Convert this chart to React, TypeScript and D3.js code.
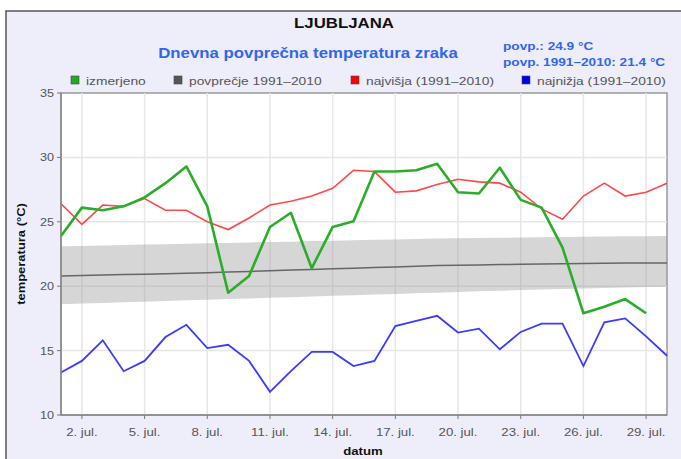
import React from "react";
import * as d3 from "d3";

const width = 681;
const height = 459;

// days of July
const days = [1, 2, 3, 4, 5, 6, 7, 8, 9, 10, 11, 12, 13, 14, 15, 16, 17, 18, 19, 20, 21, 22, 23, 24, 25, 26, 27, 28, 29, 30];
const tickDays = [2, 5, 8, 11, 14, 17, 20, 23, 26, 29];
const yTicks = [10, 15, 20, 25, 30, 35];

// izmerjeno (measured), days 1..29
const measured = [23.9, 26.1, 25.9, 26.2, 26.9, 28.0, 29.3, 26.2, 19.5, 20.8, 24.6, 25.7, 21.4, 24.6, 25.05, 28.9, 28.9, 29.0, 29.5, 27.3, 27.2, 29.2, 26.7, 26.1, 23.0, 17.9, 18.4, 19.0, 17.9];
// najvišja (1991–2010)
const maxT = [26.4, 24.8, 26.3, 26.2, 26.8, 25.9, 25.9, 25.0, 24.4, 25.3, 26.3, 26.6, 27.0, 27.6, 29.0, 28.9, 27.3, 27.4, 27.9, 28.3, 28.1, 28.0, 27.3, 26.0, 25.2, 27.0, 28.0, 27.0, 27.3, 28.0];
// najnižja (1991–2010)
const minT = [13.3, 14.2, 15.8, 13.4, 14.2, 16.05, 17.0, 15.2, 15.45, 14.2, 11.8, 13.4, 14.9, 14.9, 13.8, 14.2, 16.9, 17.3, 17.7, 16.4, 16.7, 15.1, 16.45, 17.1, 17.1, 13.8, 17.2, 17.5, 16.1, 14.6];
// povprečje 1991–2010 and its band
const avgT = [20.8, 20.83, 20.87, 20.9, 20.93, 20.97, 21.0, 21.05, 21.1, 21.15, 21.2, 21.25, 21.3, 21.35, 21.4, 21.45, 21.5, 21.55, 21.6, 21.62, 21.65, 21.68, 21.7, 21.72, 21.75, 21.77, 21.78, 21.8, 21.8, 21.8];
const bandHigh = [23.1, 23.13, 23.16, 23.2, 23.23, 23.26, 23.3, 23.33, 23.36, 23.4, 23.43, 23.46, 23.5, 23.53, 23.56, 23.6, 23.63, 23.66, 23.7, 23.72, 23.74, 23.76, 23.78, 23.8, 23.82, 23.84, 23.86, 23.87, 23.88, 23.9];
const bandLow = [18.6, 18.65, 18.7, 18.75, 18.8, 18.85, 18.9, 18.95, 19.0, 19.05, 19.1, 19.15, 19.2, 19.25, 19.3, 19.35, 19.4, 19.45, 19.5, 19.55, 19.6, 19.65, 19.7, 19.75, 19.78, 19.82, 19.86, 19.9, 19.93, 19.95];

const legend = [
  { label: "izmerjeno", color: "#22aa22", x: 71 },
  { label: "povprečje 1991–2010", color: "#555555", x: 174 },
  { label: "najvišja (1991–2010)", color: "#ff0000", x: 351 },
  { label: "najnižja (1991–2010)", color: "#0000ee", x: 522 },
];

const font = "'Liberation Sans', Arial, sans-serif";

// the original text is rendered a bit wider than Arial, so stretch it sideways
const T = ({ x, y, sx = 1.2, rot = 0, children, ...rest }: any) => (
  <text transform={`translate(${x},${y}) rotate(${rot}) scale(${sx},1)`} {...rest}>
    {children}
  </text>
);

const App = () => {
  const left = 61;
  const right = 667;
  const top = 93;
  const bottom = 415;

  const x = d3.scaleLinear().domain([1, 30]).range([left, right]);
  const y = d3.scaleLinear().domain([10, 35]).range([bottom, top]);

  const line = d3
    .line<number>()
    .x((d, i) => x(days[i]))
    .y((d) => y(d));

  const band = d3
    .area<number>()
    .x((d, i) => x(days[i]))
    .y0((d, i) => y(bandLow[i]))
    .y1((d) => y(d));

  return (
    <svg
      width={width}
      height={height}
      style={{ position: "absolute", left: 0, top: 0, fontFamily: font }}
    >
      <rect x={0} y={0} width={width} height={height} fill="#ffffff" />
      <rect x={6} y={11} width={720} height={500} fill="#eeeefb" stroke="#555" strokeWidth={1.5} />

      <T x={344} y={28} sx={1.2} textAnchor="middle" fontSize={14} fontWeight="bold" fill="#111">
        LJUBLJANA
      </T>
      <T x={308} y={58} sx={1.2} textAnchor="middle" fontSize={14} fontWeight="bold" fill="#3366ee">
        Dnevna povprečna temperatura zraka
      </T>
      <T x={503} y={50} sx={1.24} fontSize={11} fontWeight="bold" fill="#3366ee">
        povp.: 24.9 °C
      </T>
      <T x={503} y={66} sx={1.24} fontSize={11} fontWeight="bold" fill="#3366ee">
        povp. 1991–2010: 21.4 °C
      </T>

      {legend.map((l) => (
        <g key={l.label}>
          <rect x={l.x} y={76} width={8} height={8} fill={l.color} stroke="#444" strokeWidth={0.6} />
          <T x={l.x + 15} y={85} sx={1.2} fontSize={11.5} fill="#555">
            {l.label}
          </T>
        </g>
      ))}

      {/* plot area */}
      <rect x={left} y={top} width={right - left} height={bottom - top} fill="#ffffff" stroke="#999" strokeWidth={1.5} />

      {yTicks.slice(1, -1).map((t) => (
        <line key={t} x1={left} x2={right} y1={y(t)} y2={y(t)} stroke="#e6e6e6" strokeWidth={1.5} />
      ))}
      {tickDays.map((d) => (
        <line key={d} x1={x(d)} x2={x(d)} y1={top} y2={bottom} stroke="#e6e6e6" strokeWidth={1.5} />
      ))}

      <path d={band(bandHigh) || ""} fill="#999" fillOpacity={0.4} />
      <path d={line(avgT) || ""} fill="none" stroke="#666" strokeWidth={1.5} />
      <path d={line(maxT) || ""} fill="none" stroke="#ff4848" strokeWidth={1.6} />
      <path d={line(minT) || ""} fill="none" stroke="#3b3bff" strokeWidth={1.8} />
      <path d={line(measured) || ""} fill="none" stroke="#2aae2a" strokeWidth={2.6} strokeLinejoin="round" />

      {/* axes */}
      <line x1={left} x2={left} y1={top} y2={bottom} stroke="#888" strokeWidth={1.5} />
      <line x1={left} x2={right} y1={bottom} y2={bottom} stroke="#888" strokeWidth={1.5} />

      {yTicks.map((t) => (
        <g key={t}>
          <line x1={left - 4} x2={left} y1={y(t)} y2={y(t)} stroke="#777" />
          <T x={left - 7} y={y(t) + 4} sx={1.15} textAnchor="end" fontSize={11} fill="#555">
            {t}
          </T>
        </g>
      ))}
      {tickDays.map((d) => (
        <g key={d}>
          <line x1={x(d)} x2={x(d)} y1={bottom} y2={bottom + 4} stroke="#777" />
          <T x={x(d)} y={bottom + 21} sx={1.2} textAnchor="middle" fontSize={11} fill="#555">
            {d}. jul.
          </T>
        </g>
      ))}

      <T x={25} y={(top + bottom) / 2} rot={-90} sx={1.18} textAnchor="middle" fontSize={11} fontWeight="bold" fill="#111">
        temperatura (°C)
      </T>
      <T x={363} y={455} sx={1.2} textAnchor="middle" fontSize={11} fontWeight="bold" fill="#111">
        datum
      </T>
    </svg>
  );
};

export default App;
